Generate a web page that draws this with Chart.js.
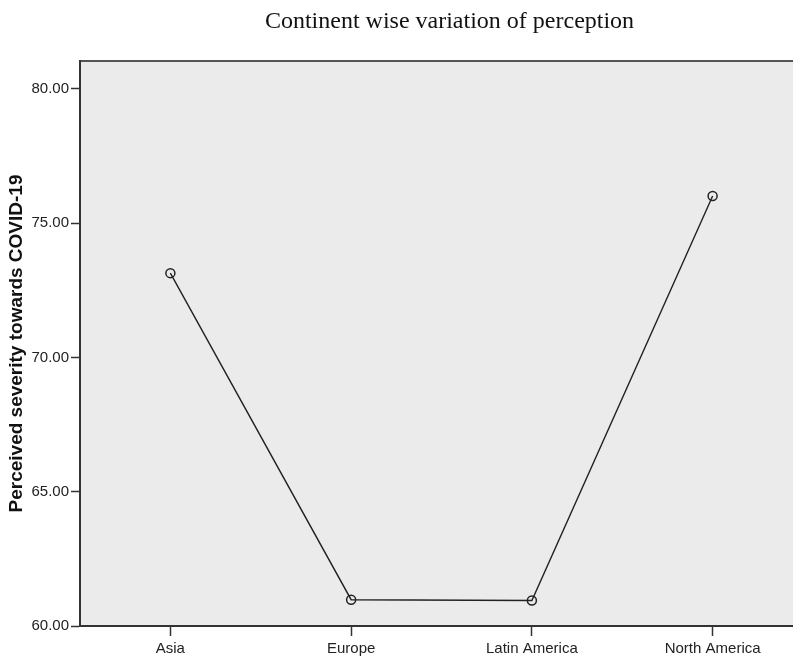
<!DOCTYPE html>
<html>
<head>
<meta charset="utf-8">
<script src="https://cdn.jsdelivr.net/npm/chart.js@4/dist/chart.umd.min.js"></script>
<style>
    html, body { margin: 0; padding: 0; background: #fff; overflow: hidden; }
    canvas { display: block; }
</style>
</head>
<body>
<canvas id="chart" width="809" height="656"></canvas>
<script>
// Data
const continents = ['Asia', 'Europe', 'Latin America', 'North America'];
const severity = [73.14, 60.98, 60.95, 76.01];
const yTicks = [60, 65, 70, 75, 80];

const chartTitle = 'Continent wise variation of perception';
const yTitle = 'Perceived severity towards COVID-19';

const inkColor = '#222222';
const plotBg = '#ebebeb';

// Plot background + top border + title
const plotDecor = {
    id: 'plotDecor',
    beforeDraw(chart) {
        const { ctx, chartArea } = chart;
        ctx.save();
        ctx.fillStyle = plotBg;
        ctx.fillRect(chartArea.left, chartArea.top, chartArea.right - chartArea.left, chartArea.bottom - chartArea.top);
        ctx.strokeStyle = '#555';
        ctx.lineWidth = 2;
        ctx.beginPath();
        ctx.moveTo(chartArea.left, chartArea.top);
        ctx.lineTo(chartArea.right, chartArea.top);
        ctx.stroke();
        ctx.fillStyle = '#111';
        ctx.font = '24px "Liberation Serif", "Times New Roman", serif';
        ctx.textAlign = 'center';
        ctx.textBaseline = 'alphabetic';
        ctx.fillText(chartTitle, (chartArea.left + chartArea.right) / 2 + 8, 28);
        ctx.restore();
    }
};

const ctx = document.getElementById('chart').getContext('2d');
const chart = new Chart(ctx, {
    type: 'line',
    data: {
        labels: continents,
        datasets: [{
            data: severity,
            borderColor: '#222',
            borderWidth: 1.4,
            pointRadius: 4.5,
            pointBorderWidth: 1.5,
            pointBorderColor: '#222',
            pointBackgroundColor: 'rgba(0,0,0,0)',
            tension: 0,
            fill: false
        }]
    },
    options: {
        responsive: false,
        animation: false,
        layout: { padding: { top: 61, left: 0, right: 0, bottom: 0 } },
        plugins: {
            legend: { display: false },
            tooltip: { enabled: false }
        },
        scales: {
            x: {
                offset: true,
                grid: {
                    display: true,
                    drawOnChartArea: false,
                    drawTicks: true,
                    tickLength: 10,
                    tickWidth: 1.5,
                    tickColor: '#333'
                },
                border: { display: true, color: '#333', width: 2 },
                ticks: {
                    color: inkColor,
                    padding: 4,
                    maxRotation: 0,
                    font: { family: '"Liberation Sans", Arial, sans-serif', size: 15 }
                },
                afterFit(scale) { scale.height = 30; }
            },
            y: {
                min: 60,
                max: 81.04,
                afterBuildTicks(scale) {
                    scale.ticks = yTicks.map(v => ({ value: v }));
                },
                grid: {
                    display: true,
                    drawOnChartArea: false,
                    drawTicks: true,
                    tickLength: 9,
                    tickWidth: 1.5,
                    tickColor: '#333'
                },
                border: { display: true, color: '#333', width: 2 },
                ticks: {
                    color: inkColor,
                    padding: 2,
                    font: { family: '"Liberation Sans", Arial, sans-serif', size: 15 },
                    callback: v => Number(v).toFixed(2)
                },
                title: {
                    display: true,
                    text: yTitle,
                    color: '#111',
                    padding: { top: 5, bottom: 0 },
                    font: { family: '"Liberation Sans", Arial, sans-serif', size: 19, weight: 'bold' }
                },
                afterFit(scale) { scale.width = 80; }
            }
        }
    },
    plugins: [plotDecor]
});
</script>
</body>
</html>
